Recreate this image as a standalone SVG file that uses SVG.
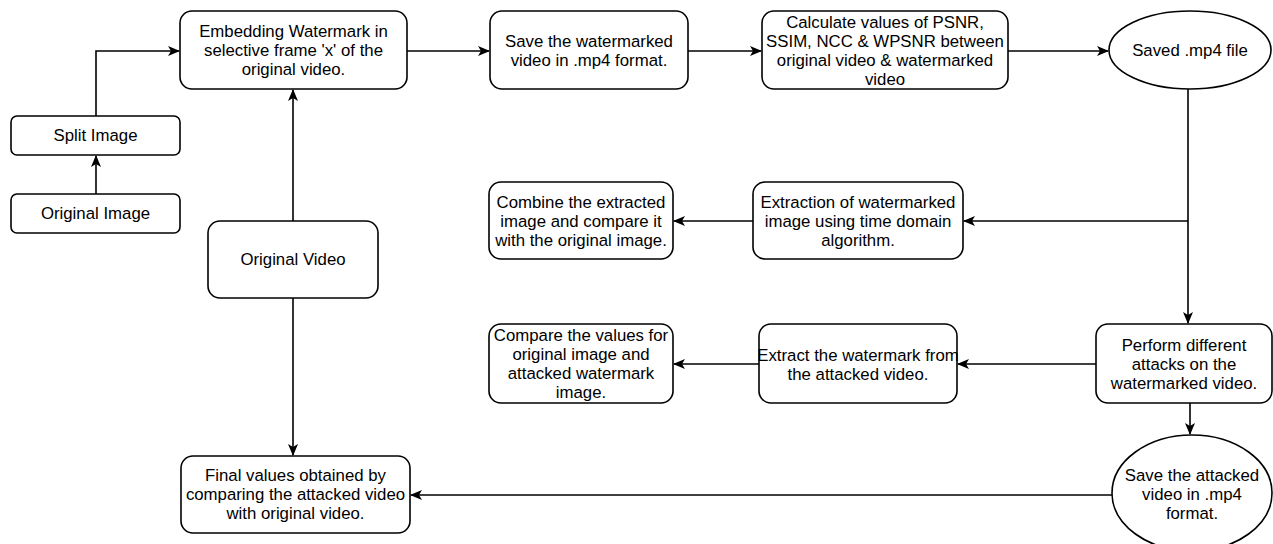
<svg xmlns="http://www.w3.org/2000/svg" width="1273" height="544" viewBox="0 0 1273 544">
<defs>
<marker id="arr" markerUnits="userSpaceOnUse" viewBox="0 0 12 12" markerWidth="12" markerHeight="12" refX="11" refY="6" orient="auto">
<path d="M0,1 L12,6 L0,11 L3,6 Z" fill="#000"/>
</marker>
<style>
.box{fill:#fff;stroke:#000;stroke-width:1.6}
.t{font-family:"Liberation Sans",Arial,sans-serif;font-size:16.8px;fill:#000;text-anchor:middle;dominant-baseline:central}
.c{fill:none;stroke:#000;stroke-width:1.6}
</style>
</defs>
<rect width="1273" height="544" fill="#fff"/>
<g id="connectors">
<path class="c" d="M96,194 L96,156" marker-end="url(#arr)"/>
<path class="c" d="M96,116 L96,51 L179,51" marker-end="url(#arr)"/>
<path class="c" d="M293,221 L293,90" marker-end="url(#arr)"/>
<path class="c" d="M293,298 L293,455" marker-end="url(#arr)"/>
<path class="c" d="M407,51 L489,51" marker-end="url(#arr)"/>
<path class="c" d="M688,51 L761,51" marker-end="url(#arr)"/>
<path class="c" d="M1008,51 L1108,51" marker-end="url(#arr)"/>
<path class="c" d="M1188,89 L1188,323" marker-end="url(#arr)"/>
<path class="c" d="M1188,221 L964,221" marker-end="url(#arr)"/>
<path class="c" d="M753,221 L674,221" marker-end="url(#arr)"/>
<path class="c" d="M1096,364 L958,364" marker-end="url(#arr)"/>
<path class="c" d="M759,364 L674,364" marker-end="url(#arr)"/>
<path class="c" d="M1190,403 L1190,434" marker-end="url(#arr)"/>
<path class="c" d="M1112,495 L411,495" marker-end="url(#arr)"/>
</g>
<g id="original-image">
<rect class="box" x="11" y="194" width="169" height="39" rx="6"/>
<text class="t" x="95.5" y="213.5">Original Image</text>
</g>
<g id="split-image">
<rect class="box" x="11" y="116" width="169" height="39" rx="6"/>
<text class="t" x="95.5" y="135.5">Split Image</text>
</g>
<g id="embedding">
<rect class="box" x="180" y="11" width="227" height="78" rx="12"/>
<text class="t" x="293.5" y="31"><tspan x="293.5" y="31">Embedding Watermark in</tspan><tspan x="293.5" y="50">selective frame 'x' of the</tspan><tspan x="293.5" y="69">original video.</tspan></text>
</g>
<g id="original-video">
<rect class="box" x="208" y="221" width="170" height="77" rx="12"/>
<text class="t" x="293" y="259.5">Original Video</text>
</g>
<g id="save-watermarked">
<rect class="box" x="490" y="11" width="198" height="78" rx="12"/>
<text class="t"><tspan x="589" y="40.5">Save the watermarked</tspan><tspan x="589" y="59.5">video in .mp4 format.</tspan></text>
</g>
<g id="calculate">
<rect class="box" x="762" y="11" width="246" height="78" rx="12"/>
<text class="t"><tspan x="885" y="22">Calculate values of PSNR,</tspan><tspan x="885" y="41">SSIM, NCC &amp; WPSNR between</tspan><tspan x="885" y="60">original video &amp; watermarked</tspan><tspan x="885" y="79">video</tspan></text>
</g>
<g id="saved-mp4">
<ellipse class="box" cx="1190" cy="50" rx="81" ry="39"/>
<text class="t" x="1190" y="50">Saved .mp4 file</text>
</g>
<g id="extraction">
<rect class="box" x="753" y="182" width="210" height="77" rx="12"/>
<text class="t"><tspan x="858" y="201.5">Extraction of watermarked</tspan><tspan x="858" y="220.5">image using time domain</tspan><tspan x="858" y="239.5">algorithm.</tspan></text>
</g>
<g id="combine">
<rect class="box" x="489" y="182" width="184" height="77" rx="12"/>
<text class="t"><tspan x="581" y="201.5">Combine the extracted</tspan><tspan x="581" y="220.5">image and compare it</tspan><tspan x="581" y="239.5">with the original image.</tspan></text>
</g>
<g id="perform-attacks">
<rect class="box" x="1096" y="324" width="176" height="79" rx="12"/>
<text class="t"><tspan x="1184" y="345">Perform different</tspan><tspan x="1184" y="364">attacks on the</tspan><tspan x="1184" y="383">watermarked video.</tspan></text>
</g>
<g id="extract-attacked">
<rect class="box" x="759" y="324" width="198" height="79" rx="12"/>
<text class="t"><tspan x="858" y="354.5">Extract the watermark from</tspan><tspan x="858" y="373.5">the attacked video.</tspan></text>
</g>
<g id="compare-values">
<rect class="box" x="489" y="324" width="184" height="79" rx="12"/>
<text class="t"><tspan x="581" y="335">Compare the values for</tspan><tspan x="581" y="354">original image and</tspan><tspan x="581" y="373">attacked watermark</tspan><tspan x="581" y="392">image.</tspan></text>
</g>
<g id="save-attacked">
<ellipse class="box" cx="1192" cy="493" rx="80" ry="58"/>
<text class="t"><tspan x="1192" y="475">Save the attacked</tspan><tspan x="1192" y="494">video in .mp4</tspan><tspan x="1192" y="513">format.</tspan></text>
</g>
<g id="final-values">
<rect class="box" x="181" y="456" width="229" height="77" rx="12"/>
<text class="t"><tspan x="295.5" y="475">Final values obtained by</tspan><tspan x="295.5" y="494">comparing the attacked video</tspan><tspan x="295.5" y="513">with original video.</tspan></text>
</g>
</svg>
